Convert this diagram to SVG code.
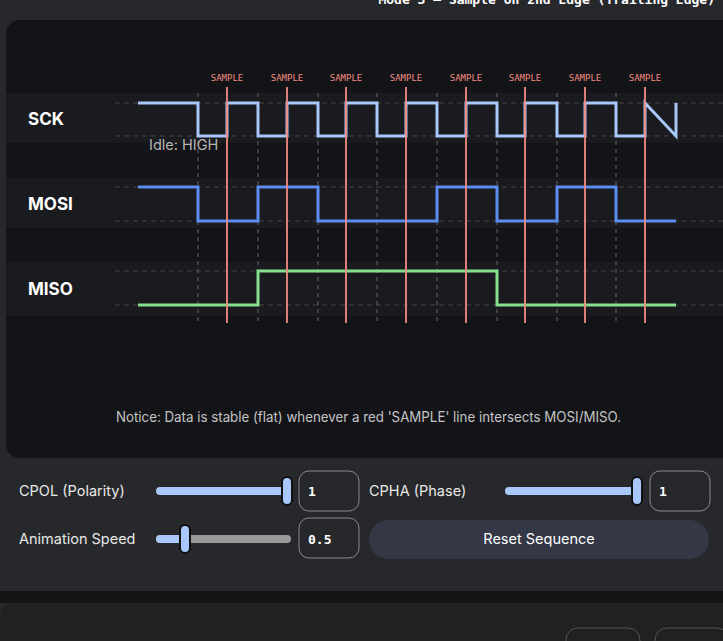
<svg xmlns="http://www.w3.org/2000/svg" width="723" height="641" viewBox="0 0 723 641">
<style>
.lbl{font-family:"Inter","Liberation Sans",sans-serif;font-weight:700;font-size:17px;fill:#fff}
.smp{font-family:"DejaVu Sans Mono","Liberation Mono",monospace;font-size:9px;fill:#f28b82;text-anchor:middle}
.ui{font-family:"Inter","Liberation Sans",sans-serif;font-size:14.5px;fill:#e8e8e8}
.mono{font-family:"DejaVu Sans Mono","Liberation Mono",monospace;font-size:13px;font-weight:700;fill:#fff}
.hd{stroke:#444;stroke-dasharray:5 4;stroke-width:1}
.vd{stroke:#666;stroke-dasharray:4 4;stroke-width:1}
.red{stroke:#f28b82;stroke-width:1.8}
.wave{fill:none;stroke-width:3}
.box{fill:none;stroke:#8a8a8a;stroke-width:1}
</style>
<rect width="723" height="641" fill="#27282b"/>
<text x="715" y="4" class="mono" text-anchor="end" font-size="12">Mode 3 — Sample on 2nd Edge (Trailing Edge)</text>
<rect x="6" y="20" width="730" height="438" rx="14" fill="#131418"/>
<rect x="6" y="93" width="717" height="50" fill="#1a1b1f"/>
<rect x="6" y="178" width="717" height="50" fill="#1a1b1f"/>
<rect x="6" y="262" width="717" height="54" fill="#1a1b1f"/>
<g id="grid">
<line class="hd" x1="115" y1="103" x2="723" y2="103"/><line class="hd" x1="115" y1="136" x2="723" y2="136"/>
<line class="hd" x1="115" y1="187" x2="723" y2="187"/><line class="hd" x1="115" y1="221" x2="723" y2="221"/>
<line class="hd" x1="115" y1="271" x2="723" y2="271"/><line class="hd" x1="115" y1="305" x2="723" y2="305"/>
<g class="vd"><line x1="198" y1="93" x2="198" y2="322"/><line x1="258" y1="93" x2="258" y2="322"/><line x1="318" y1="93" x2="318" y2="322"/><line x1="377" y1="93" x2="377" y2="322"/><line x1="437" y1="93" x2="437" y2="322"/><line x1="497" y1="93" x2="497" y2="322"/><line x1="557" y1="93" x2="557" y2="322"/><line x1="616" y1="93" x2="616" y2="322"/></g>
</g>
<g id="labels">
<text x="28" y="125" class="lbl">SCK</text>
<text x="28" y="210" class="lbl">MOSI</text>
<text x="28" y="295" class="lbl">MISO</text>
<text x="149" y="150" class="ui" style="fill:#b5b5b5">Idle: HIGH</text>
</g>
<g id="connectors">
<path class="wave" stroke="#a8c7fa" d="M138,103H198V136H227V103H258V136H287V103H318V136H346V103H377V136H406V103H437V136H466V103H497V136H525V103H557V136H585V103H616V136H645V103L676,136V103"/>
<path class="wave" stroke="#5b8ef0" d="M138,187H198V221H258V187H318V221H437V187H497V221H557V187H616V221H676"/>
<path class="wave" stroke="#85e08f" d="M138,305H258V271H497V305H676"/>
<g class="red"><line x1="227" y1="87" x2="227" y2="323"/><line x1="287" y1="87" x2="287" y2="323"/><line x1="346" y1="87" x2="346" y2="323"/><line x1="406" y1="87" x2="406" y2="323"/><line x1="466" y1="87" x2="466" y2="323"/><line x1="525" y1="87" x2="525" y2="323"/><line x1="585" y1="87" x2="585" y2="323"/><line x1="645" y1="87" x2="645" y2="323"/></g>
</g>
<g id="sample-labels">
<text x="227" y="81" class="smp">SAMPLE</text><text x="287" y="81" class="smp">SAMPLE</text><text x="346" y="81" class="smp">SAMPLE</text><text x="406" y="81" class="smp">SAMPLE</text><text x="466" y="81" class="smp">SAMPLE</text><text x="525" y="81" class="smp">SAMPLE</text><text x="585" y="81" class="smp">SAMPLE</text><text x="645" y="81" class="smp">SAMPLE</text>
</g>
<text x="116" y="422" class="ui" textLength="505" lengthAdjust="spacingAndGlyphs" style="fill:#c4c4c4;font-size:14px">Notice: Data is stable (flat) whenever a red 'SAMPLE' line intersects MOSI/MISO.</text>
<g id="cpol">
<text x="19" y="496" class="ui">CPOL (Polarity)</text>
<line x1="160" y1="491" x2="287" y2="491" stroke="#a8c7fa" stroke-width="8" stroke-linecap="round"/>
<rect x="282" y="477" width="10" height="28" rx="5" fill="#a8c7fa" stroke="#111" stroke-width="2"/>
<rect x="299" y="471" width="60" height="40" rx="10" class="box"/>
<text x="308" y="496" class="mono">1</text>
</g>
<g id="cpha">
<text x="369" y="496" class="ui">CPHA (Phase)</text>
<line x1="509" y1="491" x2="637" y2="491" stroke="#a8c7fa" stroke-width="8" stroke-linecap="round"/>
<rect x="632" y="477" width="10" height="28" rx="5" fill="#a8c7fa" stroke="#111" stroke-width="2"/>
<rect x="650" y="471" width="60" height="40" rx="10" class="box"/>
<text x="659" y="496" class="mono">1</text>
</g>
<g id="speed">
<text x="19" y="544" class="ui">Animation Speed</text>
<line x1="160" y1="539" x2="287" y2="539" stroke="#9a9a9a" stroke-width="8" stroke-linecap="round"/>
<line x1="160" y1="539" x2="185" y2="539" stroke="#a8c7fa" stroke-width="8" stroke-linecap="round"/>
<rect x="180" y="525" width="10" height="28" rx="5" fill="#a8c7fa" stroke="#111" stroke-width="2"/>
<rect x="299" y="518" width="60" height="40" rx="10" class="box"/>
<text x="308" y="544" class="mono">0.5</text>
</g>
<g id="reset">
<rect x="369" y="520" width="340" height="39" rx="19.5" fill="#343746"/>
<text x="539" y="544" class="ui" text-anchor="middle" style="fill:#fff">Reset Sequence</text>
</g>
<rect x="0" y="591" width="723" height="12" fill="#151516"/>
<rect x="0" y="603" width="736" height="60" rx="14" fill="#202123"/>
<rect x="566" y="628" width="74" height="40" rx="12" fill="none" stroke="#555"/>
<rect x="655" y="628" width="74" height="40" rx="12" fill="none" stroke="#555"/>
</svg>
